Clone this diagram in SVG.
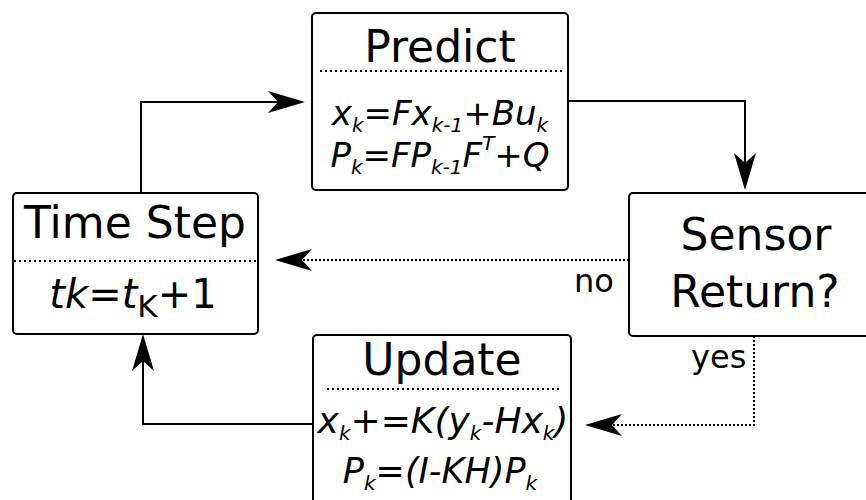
<svg xmlns="http://www.w3.org/2000/svg" width="866" height="500" viewBox="0 0 866 500">
  <style>
    .box { fill: #ffffff; stroke: #000000; stroke-width: 2; }
    .sep { fill: none; stroke: #000000; stroke-width: 2; stroke-dasharray: 2 3; }
    .title { font-family: "DejaVu Sans", Verdana, sans-serif; font-size: 44px; fill: #000000; text-anchor: middle; }
    .eq { font-family: "DejaVu Sans", Verdana, sans-serif; font-size: 34px; font-style: italic; fill: #000000; text-anchor: middle; }
    .sub { font-size: 20px; }
    .lbl { font-family: "DejaVu Sans", Verdana, sans-serif; font-size: 32px; fill: #000000; }
    .wire { fill: none; stroke: #000000; stroke-width: 2; }
    .dot { stroke-dasharray: 2 2; }
  </style>
  <defs>
    <marker id="dart" viewBox="0 0 37 22" refX="10" refY="11" markerWidth="37" markerHeight="22" markerUnits="userSpaceOnUse" orient="auto">
      <path d="M0,0 L37,11 L0,22 L10,11 Z" fill="#000000"/>
    </marker>
  </defs>

  <!-- connectors -->
  <g id="connectors">
    <path class="wire" d="M141,192 V102 H278" marker-end="url(#dart)"/>
    <path class="wire" d="M568,101 H745 V163" marker-end="url(#dart)"/>
    <path class="wire dot" d="M629,260 H302" marker-end="url(#dart)"/>
    <path class="wire dot" d="M754,336 V425 H612" marker-end="url(#dart)"/>
    <path class="wire" d="M313,424 H143 V361" marker-end="url(#dart)"/>
    <text class="lbl" x="574" y="292">no</text>
    <text class="lbl" x="691" y="368">yes</text>
  </g>

  <!-- predict step -->
  <g id="predict">
    <rect class="box" x="312" y="13" width="256" height="177" rx="4"/>
    <line class="sep" x1="320" y1="71" x2="564" y2="71"/>
    <text class="title" x="440" y="62">Predict</text>
    <text class="eq" x="440" y="125">x<tspan class="sub" dy="7">k</tspan><tspan dy="-7">=Fx</tspan><tspan class="sub" dy="7">k-1</tspan><tspan dy="-7">+Bu</tspan><tspan class="sub" dy="7">k</tspan></text>
    <text class="eq" x="440" y="167">P<tspan class="sub" dy="7">k</tspan><tspan dy="-7">=FP</tspan><tspan class="sub" dy="7">k-1</tspan><tspan dy="-7">F</tspan><tspan class="sub" dy="-17">T</tspan><tspan dy="17">+Q</tspan></text>
  </g>

  <!-- time step -->
  <g id="timestep">
    <rect class="box" x="13" y="193" width="245" height="141" rx="4"/>
    <line class="sep" x1="14" y1="261" x2="257" y2="261"/>
    <text class="title" x="135" y="238">Time Step</text>
    <text class="eq" x="133" y="308" style="font-size:40px">tk=t<tspan style="font-style:normal;font-size:31px" dy="9">K</tspan><tspan style="font-style:normal" dy="-9">+1</tspan></text>
  </g>

  <!-- sensor decision -->
  <g id="sensor">
    <rect class="box" x="629" y="193" width="260" height="143" rx="4"/>
    <text class="title" x="756" y="250">Sensor</text>
    <text class="title" x="755" y="307">Return?</text>
  </g>

  <!-- update step -->
  <g id="update">
    <rect class="box" x="313" y="335" width="258" height="190" rx="4"/>
    <line class="sep" x1="327" y1="389" x2="562" y2="389"/>
    <text class="title" x="442" y="375">Update</text>
    <text class="eq" x="443" y="433" style="font-size:36px">x<tspan class="sub" dy="7">k</tspan><tspan dy="-7">+=K(y</tspan><tspan class="sub" dy="7">k</tspan><tspan dy="-7">-Hx</tspan><tspan class="sub" dy="7">k</tspan><tspan dy="-7">)</tspan></text>
    <text class="eq" x="440" y="483" style="font-size:35px">P<tspan class="sub" dy="7">k</tspan><tspan dy="-7">=(I-KH)P</tspan><tspan class="sub" dy="7">k</tspan></text>
  </g>
</svg>
